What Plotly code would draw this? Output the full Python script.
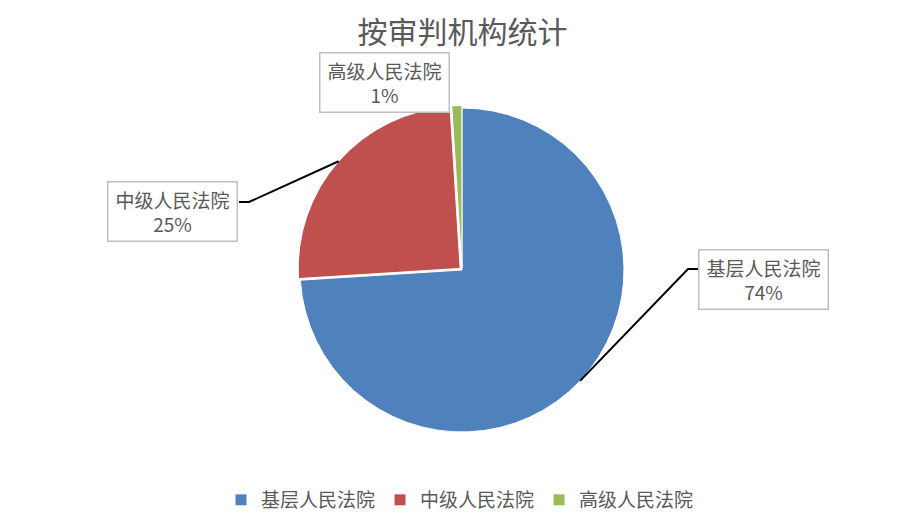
import math
import plotly.graph_objects as go

# Data
courts = ["基层人民法院", "中级人民法院", "高级人民法院"]
shares = [74, 25, 1]
colors = ["#4F81BD", "#C0504D", "#9BBB59"]
pulls = [0, 0.015, 0.015]

W, H = 911, 521
FONT = "Noto Sans CJK SC, Microsoft YaHei, sans-serif"
TEXT = "#595959"

# Pie geometry in pixels (centre and radius of the unpulled disc)
cx, cy, r = 462.0, 270.0, 162.0
max_pull = max(pulls)
half = r * (1 + max_pull)
dom_x = [(cx - half) / W, (cx + half) / W]
dom_y = [1 - (cy + half) / H, 1 - (cy - half) / H]

fig = go.Figure(
    go.Pie(
        labels=courts,
        values=shares,
        sort=False,
        direction="clockwise",
        rotation=0,
        pull=pulls,
        marker=dict(colors=colors, line=dict(color="white", width=1)),
        textinfo="none",
        hoverinfo="label+percent",
        domain=dict(x=dom_x, y=dom_y),
    )
)


def px_to_paper(x, y):
    return x / W, 1 - y / H


total = sum(shares)
pct = [round(100 * v / total) for v in shares]

# Mid-angle (clockwise from 12 o'clock) of each slice, for leader lines
mid_angles = []
acc = 0
for v in shares:
    mid_angles.append(2 * math.pi * (acc + v / 2) / total)
    acc += v


def edge_point(i):
    a = mid_angles[i]
    rr = r * (1 + pulls[i])
    return cx + rr * math.sin(a), cy - rr * math.cos(a)


# Label boxes: centre in pixels, plus leader elbow and end points
boxes = {
    0: dict(c=(763.5, 279), elbow=(688, 269), end=(698, 269)),
    1: dict(c=(172.5, 212), elbow=(249, 202), end=(239, 202)),
    2: dict(c=(384.5, 83), elbow=None, end=None),
}

annotations = []
shapes = []
for i, b in boxes.items():
    bx, by = px_to_paper(*b["c"])
    annotations.append(
        dict(
            x=bx, y=by, xref="paper", yref="paper",
            xanchor="center", yanchor="middle",
            text=f"{courts[i]}<br>{pct[i]}%",
            showarrow=False,
            font=dict(family=FONT, size=19, color=TEXT),
            align="center",
            width=122,
            bgcolor="white",
            bordercolor="#BFBFBF",
            borderwidth=1.5,
            borderpad=3,
        )
    )
    if b["elbow"] is not None:
        sx, sy = edge_point(i)
        p0 = px_to_paper(sx, sy)
        p1 = px_to_paper(*b["elbow"])
        p2 = px_to_paper(*b["end"])
        shapes.append(
            dict(
                type="path", xref="paper", yref="paper",
                path=f"M {p0[0]},{p0[1]} L {p1[0]},{p1[1]} L {p2[0]},{p2[1]}",
                line=dict(color="black", width=2),
            )
        )

fig.update_layout(
    width=W,
    height=H,
    margin=dict(l=0, r=0, t=0, b=0),
    paper_bgcolor="white",
    plot_bgcolor="white",
    title=dict(
        text="按审判机构统计",
        x=462.5 / W, xanchor="center",
        y=1 - 32 / H, yanchor="middle",
        font=dict(family=FONT, size=30, color=TEXT),
    ),
    showlegend=True,
    legend=dict(
        orientation="h",
        x=460 / W, xanchor="center",
        y=1 - 500 / H, yanchor="middle",
        font=dict(family=FONT, size=19, color=TEXT),
        itemwidth=30,
        traceorder="normal",
    ),
    annotations=annotations,
    shapes=shapes,
)

fig.write_html("out.html")
